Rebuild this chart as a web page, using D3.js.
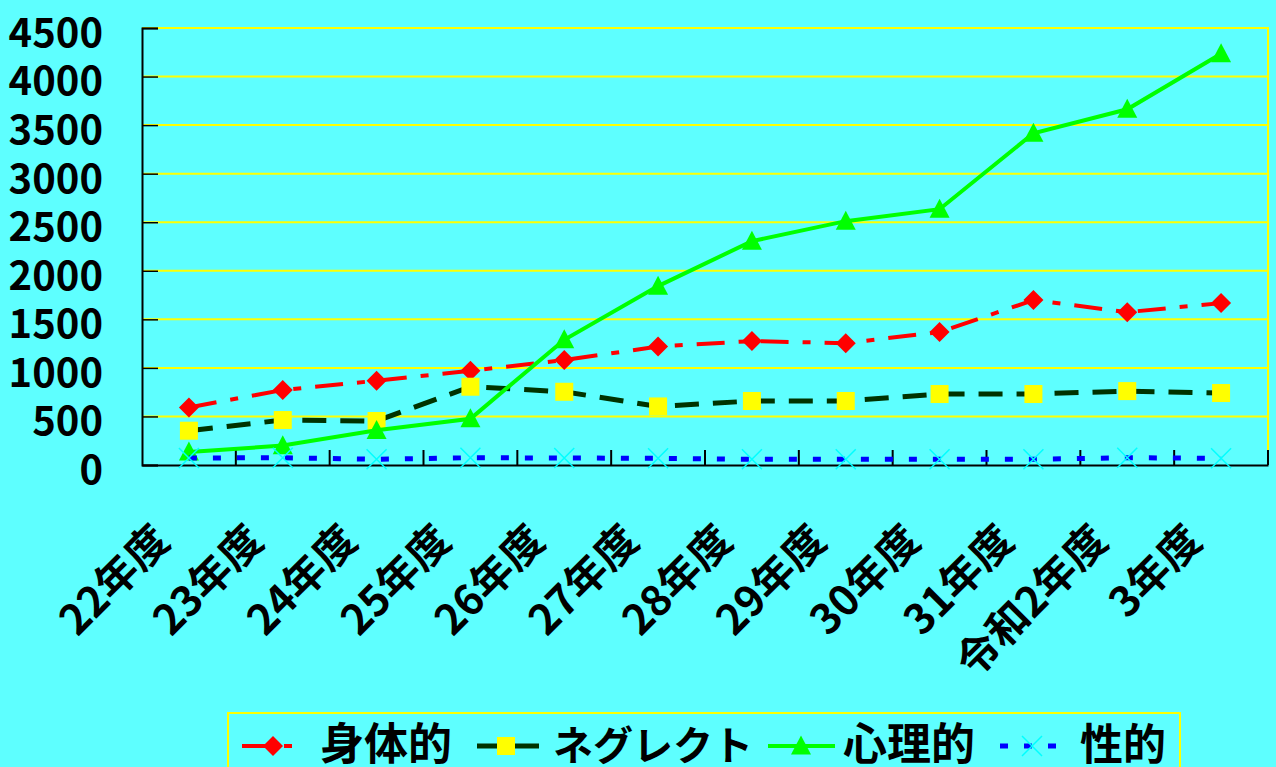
<!DOCTYPE html>
<html><head><meta charset="utf-8">
<script src="https://cdn.jsdelivr.net/npm/d3@7"></script>
<style>
html,body{margin:0;padding:0;background:#5EFFFF;}
svg{display:block;}
text{font-family:"Noto Sans CJK JP","Noto Sans",sans-serif;font-weight:bold;fill:#000;}
</style></head>
<body>
<svg id="chart" width="1276" height="767"></svg>
<script>
const categories = ["22年度","23年度","24年度","25年度","26年度","27年度","28年度","29年度","30年度","31年度","令和2年度","3年度"];
const physical = [593, 772, 868, 970, 1080, 1220, 1276, 1255, 1369, 1698, 1574, 1667];
const neglect = [353, 463, 453, 806, 754, 603, 659, 659, 731, 731, 761, 741];
const psychological = [134, 200, 357, 476, 1289, 1842, 2305, 2511, 2634, 3416, 3663, 4235];
const sexual = [72, 75, 59, 75, 72, 69, 59, 59, 59, 59, 75, 69];
const seriesNames = ["身体的","ネグレクト","心理的","性的"];
const yTicks = [0,500,1000,1500,2000,2500,3000,3500,4000,4500];

const svg = d3.select("#chart");
const L = 142, R = 1268, T = 28, B = 465;
const x = d3.scaleBand().domain(categories).range([L, R]);
const y = d3.scaleLinear().domain([0, 4500]).range([B, T]);
const cx = c => x(c) + x.bandwidth()/2;

svg.append("rect").attr("width",1276).attr("height",767).attr("fill","#5EFFFF");

// gridlines
svg.append("g").selectAll("line").data(yTicks.filter(d=>d>0)).join("line")
  .attr("x1", L).attr("x2", R).attr("y1", d=>y(d)).attr("y2", d=>y(d))
  .attr("stroke", "#FFFF00").attr("stroke-width", 2);
// right border
svg.append("line").attr("x1",R).attr("x2",R).attr("y1",T-1).attr("y2",B)
  .attr("stroke","#FFFF00").attr("stroke-width",2);

// y axis
const yAxis = d3.axisLeft(y).tickValues(yTicks).tickSize(-16).tickPadding(39).tickFormat(d3.format("d"));
const gy = svg.append("g").attr("transform", `translate(${L},0)`).call(yAxis);
gy.select(".domain").attr("stroke","#000").attr("stroke-width",2);
gy.selectAll(".tick line").attr("stroke","#000").attr("stroke-width",1.5);
gy.selectAll(".tick text").attr("font-size",40).attr("font-family",'"Noto Sans CJK JP",sans-serif')
  .attr("font-weight","bold").attr("fill","#000").attr("dy","0.36em").attr("transform","translate(0,4)");

// x axis
const xAxis = d3.axisBottom(x).tickSize(0).tickFormat("");
const gx = svg.append("g").attr("transform", `translate(0,${B})`).call(xAxis);
gx.select(".domain").attr("stroke","#000").attr("stroke-width",2);
// boundary ticks
const bounds = categories.map(c => x(c)).slice(1).concat([R]);
svg.append("g").selectAll("line").data(bounds).join("line")
  .attr("x1", d=>d).attr("x2", d=>d).attr("y1", B-15).attr("y2", B)
  .attr("stroke","#000").attr("stroke-width",2);

// x labels
svg.append("g").selectAll("text").data(categories).join("text")
  .attr("transform", d => `translate(${cx(d)-17},${B+78}) rotate(-45)`)
  .attr("text-anchor","end").attr("font-size",42).text(d=>d);

// series
const series = [
  {name:seriesNames[0], data:physical, color:"#FF0000", width:4, dash:"28,14,8,14", marker:"diamond", mfill:"#FF0000"},
  {name:seriesNames[1], data:neglect, color:"#003300", width:5, dash:"24,14", marker:"square", mfill:"#FFFF00"},
  {name:seriesNames[2], data:psychological, color:"#00FF00", width:4, dash:null, marker:"triangle", mfill:"#00FF00"},
  {name:seriesNames[3], data:sexual, color:"#0000FF", width:5, dash:"8,16", marker:"x", mfill:"#00FFFF"}
];

function drawMarker(g, type, px, py, fill, s) {
  s = s || 1;
  if (type === "diamond") {
    const r = 10*s;
    g.append("path").attr("d", `M${px},${py-r}L${px+r},${py}L${px},${py+r}L${px-r},${py}Z`).attr("fill", fill);
  } else if (type === "square") {
    const r = 9*s;
    g.append("rect").attr("x", px-r).attr("y", py-r).attr("width", 2*r).attr("height", 2*r).attr("fill", fill);
  } else if (type === "triangle") {
    const w = 10*s, h = 19*s;
    g.append("path").attr("d", `M${px},${py-h*0.55}L${px+w},${py+h*0.45}L${px-w},${py+h*0.45}Z`).attr("fill", fill);
  } else if (type === "x") {
    const r = 10*s;
    g.append("path").attr("d", `M${px-r},${py-r}L${px+r},${py+r}M${px-r},${py+r}L${px+r},${py-r}`)
      .attr("stroke", fill).attr("stroke-width", 1.5).attr("fill","none");
  }
}

const line = d3.line().x((d,i)=>cx(categories[i])).y(d=>y(d));
series.forEach(s => {
  const g = svg.append("g");
  g.append("path").attr("d", line(s.data)).attr("fill","none")
    .attr("stroke", s.color).attr("stroke-width", s.width)
    .attr("stroke-dasharray", s.dash);
  s.data.forEach((v,i) => drawMarker(g, s.marker, cx(categories[i]), y(v), s.mfill));
});

// legend
const lg = svg.append("g");
lg.append("rect").attr("x",228).attr("y",713).attr("width",952).attr("height",80)
  .attr("fill","none").attr("stroke","#FFFF00").attr("stroke-width",2);
const legendItems = [
  {s:series[0], x0:242, x1:295, mx:273, tx:320, fs:44},
  {s:series[1], x0:477, x1:540, mx:506, tx:553, fs:40},
  {s:series[2], x0:768, x1:835, mx:801, tx:843, fs:44},
  {s:series[3], x0:1000, x1:1063, mx:1032, tx:1080, fs:43}
];
const ly = 746;
legendItems.forEach(it => {
  lg.append("line").attr("x1", it.x0).attr("x2", it.x1).attr("y1", ly).attr("y2", ly)
    .attr("stroke", it.s.color).attr("stroke-width", it.s.width)
    .attr("stroke-dasharray", it.s.dash);
  drawMarker(lg, it.s.marker, it.mx, ly, it.s.mfill);
  lg.append("text").attr("x", it.tx).attr("y", ly+14).attr("font-size",it.fs).text(it.s.name);
});
</script>
</body></html>
